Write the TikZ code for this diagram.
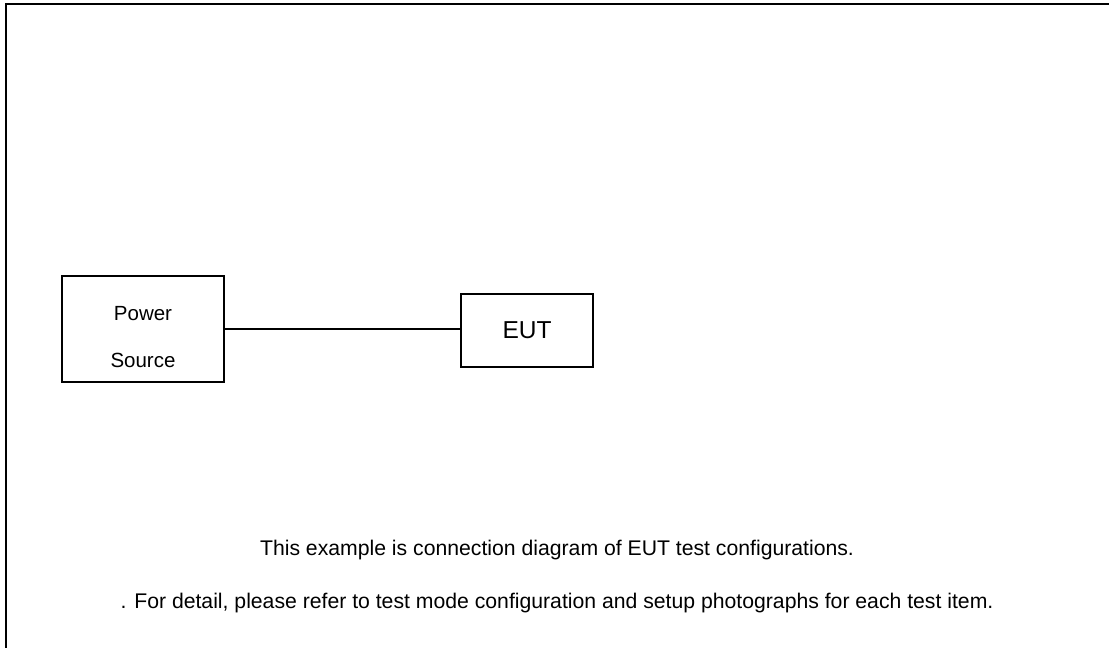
\documentclass[tikz,border=0pt]{standalone}
\usepackage{fontspec}
\setmainfont{Liberation Sans}

\begin{document}
\begin{tikzpicture}[x=1pt,y=-1pt, box/.style={draw, line width=1.3pt, inner sep=0pt, align=center},
  note/.style={anchor=base, font=\fontsize{21.2}{25}\selectfont}]
\useasboundingbox (0,0) rectangle (1109,648);
\draw[line width=2.2pt] (6.2,648) -- (6.2,3.7) -- (1109,3.7);
\node[box, minimum width=162pt, minimum height=106pt, text height=90pt, text depth=14pt,
  font=\fontsize{20.5}{47}\selectfont] (power) at (143,329) {Power\\Source};
\node[box, minimum width=132pt, minimum height=73pt, font=\fontsize{24.5}{29}\selectfont] (eut) at (527,330.5) {EUT};
\draw[line width=1.2pt] (power.east) -- (power.east -| eut.west);
\node[note] (note1) at (557,555) {This example is connection diagram of EUT test configurations.};
\node[note] (note2) at (557,608) {. For detail, please refer to test mode configuration and setup photographs for each test item.};
\end{tikzpicture}
\end{document}
